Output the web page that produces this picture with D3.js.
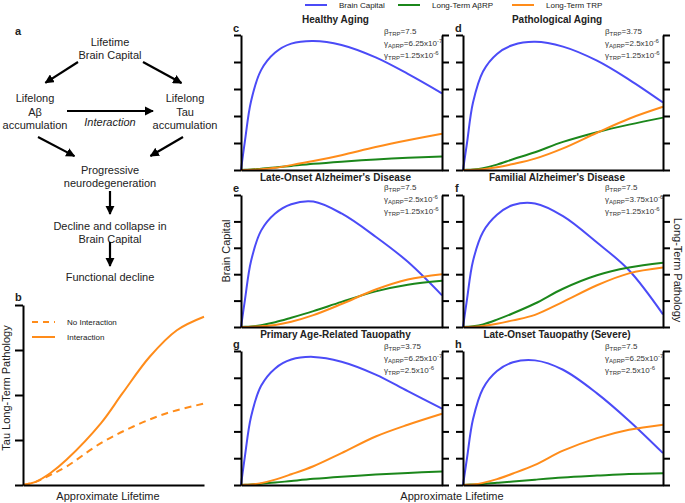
<!DOCTYPE html>
<html><head><meta charset="utf-8">
<script src="https://cdn.jsdelivr.net/npm/d3@7"></script>
<style>
body{margin:0;background:#fff;}
svg{display:block;font-family:"Liberation Sans",Arial,sans-serif;}
</style></head>
<body><svg id="chart" width="685" height="503"></svg>
<script>
// ---------- DATA ----------
const seriesNames = ["Brain Capital", "Long-Term A\u03b2RP", "Long-Term TRP"];
const seriesColors = ["#4b4bf7", "#1b871b", "#ff8c1a"];

// normalized lifetime sample positions (0..1) shared by panels c-h
const xs = [0, 0.02, 0.05, 0.1, 0.17, 0.25, 0.36, 0.5, 0.67, 0.83, 1];

const brainC = [0, 1.1, 2.55, 3.7, 4.35, 4.68, 4.78, 4.63, 4.17, 3.56, 2.84];
const abrpC  = [0, 0.01, 0.02, 0.05, 0.09, 0.15, 0.23, 0.31, 0.39, 0.45, 0.5];
const trpC   = [0, 0.003, 0.01, 0.03, 0.08, 0.18, 0.33, 0.55, 0.85, 1.1, 1.34];

const brainD = [0, 1.0, 2.5, 3.65, 4.3, 4.63, 4.75, 4.57, 4.05, 3.35, 2.5];
const abrpD  = [0, 0.005, 0.02, 0.07, 0.2, 0.4, 0.66, 1.04, 1.4, 1.68, 1.94];
const trpD   = [0, 0.002, 0.01, 0.03, 0.1, 0.22, 0.42, 0.8, 1.38, 1.9, 2.34];

const brainE = [0, 1.05, 2.5, 3.65, 4.3, 4.65, 4.75, 4.3, 3.42, 2.47, 1.2];
const abrpE  = [0, 0.005, 0.02, 0.07, 0.18, 0.35, 0.6, 0.95, 1.35, 1.6, 1.75];
const trpE   = [0, 0.002, 0.01, 0.03, 0.08, 0.2, 0.45, 0.87, 1.42, 1.8, 2.0];

const brainF = [0, 1.05, 2.5, 3.6, 4.25, 4.62, 4.68, 4.2, 3.2, 2.15, 0.48];
const abrpF  = [0, 0.01, 0.03, 0.1, 0.28, 0.52, 0.89, 1.45, 1.96, 2.25, 2.43];
const trpF   = [0, 0.003, 0.01, 0.04, 0.12, 0.25, 0.46, 0.95, 1.58, 2.03, 2.25];

const brainG = [0, 1.1, 2.55, 3.7, 4.35, 4.68, 4.78, 4.6, 4.12, 3.5, 2.85];
const abrpG  = [0, 0.01, 0.02, 0.05, 0.09, 0.15, 0.23, 0.31, 0.39, 0.45, 0.5];
const trpG   = [0, 0.005, 0.02, 0.07, 0.2, 0.4, 0.7, 1.19, 1.81, 2.25, 2.66];

const brainH = [0, 1.0, 2.45, 3.6, 4.25, 4.58, 4.65, 4.3, 3.42, 2.4, 1.19];
const abrpH  = [0, 0.01, 0.02, 0.04, 0.08, 0.13, 0.2, 0.28, 0.35, 0.41, 0.44];
const trpH   = [0, 0.005, 0.02, 0.08, 0.22, 0.43, 0.75, 1.28, 1.75, 2.06, 2.25];

const panelLetters = ["c", "d", "e", "f", "g", "h"];
const panelTitles = ["Healthy Aging", "Pathological Aging", "Late-Onset Alzheimer's Disease",
  "Familial Alzheimer's Disease", "Primary Age-Related Tauopathy", "Late-Onset Tauopathy (Severe)"];
const betaTRP  = ["7.5", "3.75", "7.5", "7.5", "3.75", "7.5"];
const gammaAbMant = ["6.25", "2.5", "2.5", "3.75", "6.25", "6.25"];
const gammaAbExp  = ["-7", "-6", "-6", "-6", "-7", "-7"];
const gammaTMant  = ["1.25", "1.25", "1.25", "1.25", "2.5", "2.5"];
const gammaTExp   = ["-6", "-6", "-6", "-6", "-6", "-6"];
const panelSeries = [
  [brainC, abrpC, trpC], [brainD, abrpD, trpD],
  [brainE, abrpE, trpE], [brainF, abrpF, trpF],
  [brainG, abrpG, trpG], [brainH, abrpH, trpH]
];
const yTicks = [0, 1, 2, 3, 4, 5];

// panel b
const bNames = ["No Interaction", "Interaction"];
const bXsSolid = [0, 0.07, 0.15, 0.24, 0.43, 0.55, 0.7, 0.85, 1];
const bSolid   = [0, 0.07, 0.26, 0.56, 1.37, 2.04, 2.85, 3.44, 3.74];
const bXsDash  = [0, 0.07, 0.15, 0.24, 0.43, 0.61, 0.79, 1];
const bDash    = [0, 0.07, 0.22, 0.41, 0.93, 1.30, 1.59, 1.81];
const bTicks = [0, 1, 2, 3, 4];

// panel a (flow diagram)
const aTexts = [
  ["Lifetime", 110, 46], ["Brain Capital", 110, 59],
  ["Lifelong", 35, 102], ["A\u03b2", 35, 116], ["accumulation", 35, 129],
  ["Lifelong", 185, 102], ["Tau", 185, 116], ["accumulation", 185, 129],
  ["Progressive", 110, 174], ["neurodegeneration", 110, 187],
  ["Decline and collapse in", 110, 230], ["Brain Capital", 110, 243],
  ["Functional decline", 110, 281]
];
const aArrows = [
  [78, 62, 42, 85], [143, 62, 185, 85], [67, 111, 157, 111],
  [38, 137, 78, 158], [183, 137, 147, 158], [110, 191, 110, 218], [110, 242, 110, 270]
];

// ---------- DRAW ----------
const svg = d3.select("#chart");
const curve = d3.curveCatmullRom.alpha(0.5);

// legend top
const legX = [305, 398, 512];
seriesNames.forEach((n, i) => {
  svg.append("line").attr("x1", legX[i]).attr("x2", legX[i] + 22).attr("y1", 5).attr("y2", 5)
    .attr("stroke", seriesColors[i]).attr("stroke-width", 2);
  svg.append("text").attr("x", legX[i] + 34).attr("y", 8).attr("font-size", 8).attr("fill", "#222").text(n);
});

const cols = [[241, 442], [463, 663]];
const rows = [[35, 170], [195, 327], [351, 485]];
const titleY = [23, 181, 338];
const annY = [34, 190, 349];

panelSeries.forEach((ser, p) => {
  const col = cols[p % 2], row = rows[Math.floor(p / 2)];
  const x = d3.scaleLinear().domain([0, 1]).range(col);
  const y = d3.scaleLinear().domain([0, 5]).range([row[1], row[0]]);
  const g = svg.append("g");
  const line = d3.line().x(d => x(d[0])).y(d => y(d[1])).curve(curve);
  ser.forEach((vals, s) => {
    g.append("path").datum(xs.map((t, k) => [t, vals[k]]))
      .attr("d", line).attr("fill", "none").attr("stroke", seriesColors[s]).attr("stroke-width", 2);
  });
  const left = g.append("g").attr("transform", `translate(${col[0]},0)`)
    .call(d3.axisLeft(y).tickValues(yTicks).tickFormat(() => "").tickSize(7).tickSizeOuter(0));
  const right = g.append("g").attr("transform", `translate(${col[1]},0)`)
    .call(d3.axisRight(y).tickValues(yTicks).tickFormat(() => "").tickSize(7).tickSizeOuter(0));
  const bottom = g.append("g").attr("transform", `translate(0,${row[1]})`)
    .call(d3.axisBottom(x).tickValues([]).tickSizeOuter(0));
  [left, right, bottom].forEach(a => {
    a.selectAll("path,line").attr("stroke", "#000").attr("stroke-width", 2);
  });
  // title
  const r = Math.floor(p / 2);
  svg.append("text").attr("x", (col[0] + col[1]) / 2 - 6).attr("y", titleY[r])
    .attr("text-anchor", "middle").attr("font-size", 10).attr("font-weight", "bold").attr("fill", "#222")
    .text(panelTitles[p]);
  svg.append("text").attr("x", col[0] - 8).attr("y", row[0] - 3)
    .attr("font-size", 11).attr("font-weight", "bold").attr("fill", "#222").text(panelLetters[p]);
  // annotations
  const ax = col[1] - 58;
  const t1 = svg.append("text").attr("x", ax).attr("y", annY[r]).attr("font-size", 8).attr("fill", "#333");
  t1.append("tspan").text("\u03b2");
  t1.append("tspan").attr("font-size", 6).attr("dy", 2).text("TRP");
  t1.append("tspan").attr("dy", -2).text("=" + betaTRP[p]);
  const t2 = svg.append("text").attr("x", ax).attr("y", annY[r] + 12).attr("font-size", 8).attr("fill", "#333");
  t2.append("tspan").text("\u03b3");
  t2.append("tspan").attr("font-size", 6).attr("dy", 2).text("A\u03b2RP");
  t2.append("tspan").attr("dy", -2).text("=" + gammaAbMant[p] + "x10");
  t2.append("tspan").attr("font-size", 6).attr("dy", -3).text(gammaAbExp[p]);
  const t3 = svg.append("text").attr("x", ax).attr("y", annY[r] + 24).attr("font-size", 8).attr("fill", "#333");
  t3.append("tspan").text("\u03b3");
  t3.append("tspan").attr("font-size", 6).attr("dy", 2).text("TRP");
  t3.append("tspan").attr("dy", -2).text("=" + gammaTMant[p] + "x10");
  t3.append("tspan").attr("font-size", 6).attr("dy", -3).text(gammaTExp[p]);
});

// shared axis labels for c-h
svg.append("text").attr("x", 452).attr("y", 500).attr("text-anchor", "middle").attr("font-size", 11)
  .attr("fill", "#222").text("Approximate Lifetime");
svg.append("text").attr("transform", "translate(230,251) rotate(-90)").attr("text-anchor", "middle")
  .attr("font-size", 11).attr("fill", "#222").text("Brain Capital");
svg.append("text").attr("transform", "translate(674,270) rotate(90)").attr("text-anchor", "middle")
  .attr("font-size", 11).attr("fill", "#222").text("Long-Term Pathology");

// ---------- panel b ----------
{
  const x = d3.scaleLinear().domain([0, 1]).range([23, 204]);
  const y = d3.scaleLinear().domain([0, 4]).range([485, 305]);
  const line = d3.line().x(d => x(d[0])).y(d => y(d[1])).curve(curve);
  svg.append("path").datum(bXsDash.map((t, k) => [t, bDash[k]])).attr("d", line)
    .attr("fill", "none").attr("stroke", "#ff8c1a").attr("stroke-width", 2).attr("stroke-dasharray", "7,5");
  svg.append("path").datum(bXsSolid.map((t, k) => [t, bSolid[k]])).attr("d", line)
    .attr("fill", "none").attr("stroke", "#ff8c1a").attr("stroke-width", 2);
  const left = svg.append("g").attr("transform", "translate(23,0)")
    .call(d3.axisLeft(y).tickValues(bTicks).tickFormat(() => "").tickSize(8).tickSizeOuter(0));
  const bottom = svg.append("g").attr("transform", "translate(0,485)")
    .call(d3.axisBottom(x).tickValues([]).tickSizeOuter(0));
  [left, bottom].forEach(a => a.selectAll("path,line").attr("stroke", "#000").attr("stroke-width", 2));
  // legend
  const ly = [322, 337];
  bNames.forEach((n, i) => {
    svg.append("line").attr("x1", 32).attr("x2", 55).attr("y1", ly[i]).attr("y2", ly[i])
      .attr("stroke", "#ff8c1a").attr("stroke-width", 2).attr("stroke-dasharray", i === 0 ? "6,5" : null);
    svg.append("text").attr("x", 67).attr("y", ly[i] + 3).attr("font-size", 8).attr("fill", "#222").text(n);
  });
  svg.append("text").attr("x", 15).attr("y", 301).attr("font-size", 11).attr("font-weight", "bold").attr("fill", "#222").text("b");
  svg.append("text").attr("x", 108).attr("y", 500).attr("text-anchor", "middle").attr("font-size", 11)
    .attr("fill", "#222").text("Approximate Lifetime");
  svg.append("text").attr("transform", "translate(10,388) rotate(-90)").attr("text-anchor", "middle")
    .attr("font-size", 11).attr("fill", "#222").text("Tau Long-Term Pathology");
}

// ---------- panel a ----------
svg.append("text").attr("x", 15).attr("y", 35).attr("font-size", 11).attr("font-weight", "bold").attr("fill", "#222").text("a");
aTexts.forEach(([t, x, y]) => {
  svg.append("text").attr("x", x).attr("y", y).attr("text-anchor", "middle").attr("font-size", 11)
    .attr("fill", "#222").text(t);
});
svg.append("text").attr("x", 110).attr("y", 126).attr("text-anchor", "middle").attr("font-size", 11)
  .attr("font-style", "italic").attr("fill", "#222").text("Interaction");
svg.append("defs").append("marker").attr("id", "ah").attr("viewBox", "0 0 10 10")
  .attr("refX", 9).attr("refY", 5).attr("markerWidth", 4.2).attr("markerHeight", 4.2)
  .attr("markerUnits", "strokeWidth").attr("orient", "auto")
  .append("path").attr("d", "M0,0 L10,5 L0,10 Z").attr("fill", "#000");
aArrows.forEach(([x1, y1, x2, y2]) => {
  const len = Math.hypot(x2 - x1, y2 - y1);
  const ux = (x2 - x1) / len, uy = (y2 - y1) / len;
  svg.append("line").attr("x1", x1).attr("y1", y1).attr("x2", x2 - ux * 4).attr("y2", y2 - uy * 4)
    .attr("stroke", "#000").attr("stroke-width", 2.2).attr("marker-end", "url(#ah)");
});
</script></body></html>
